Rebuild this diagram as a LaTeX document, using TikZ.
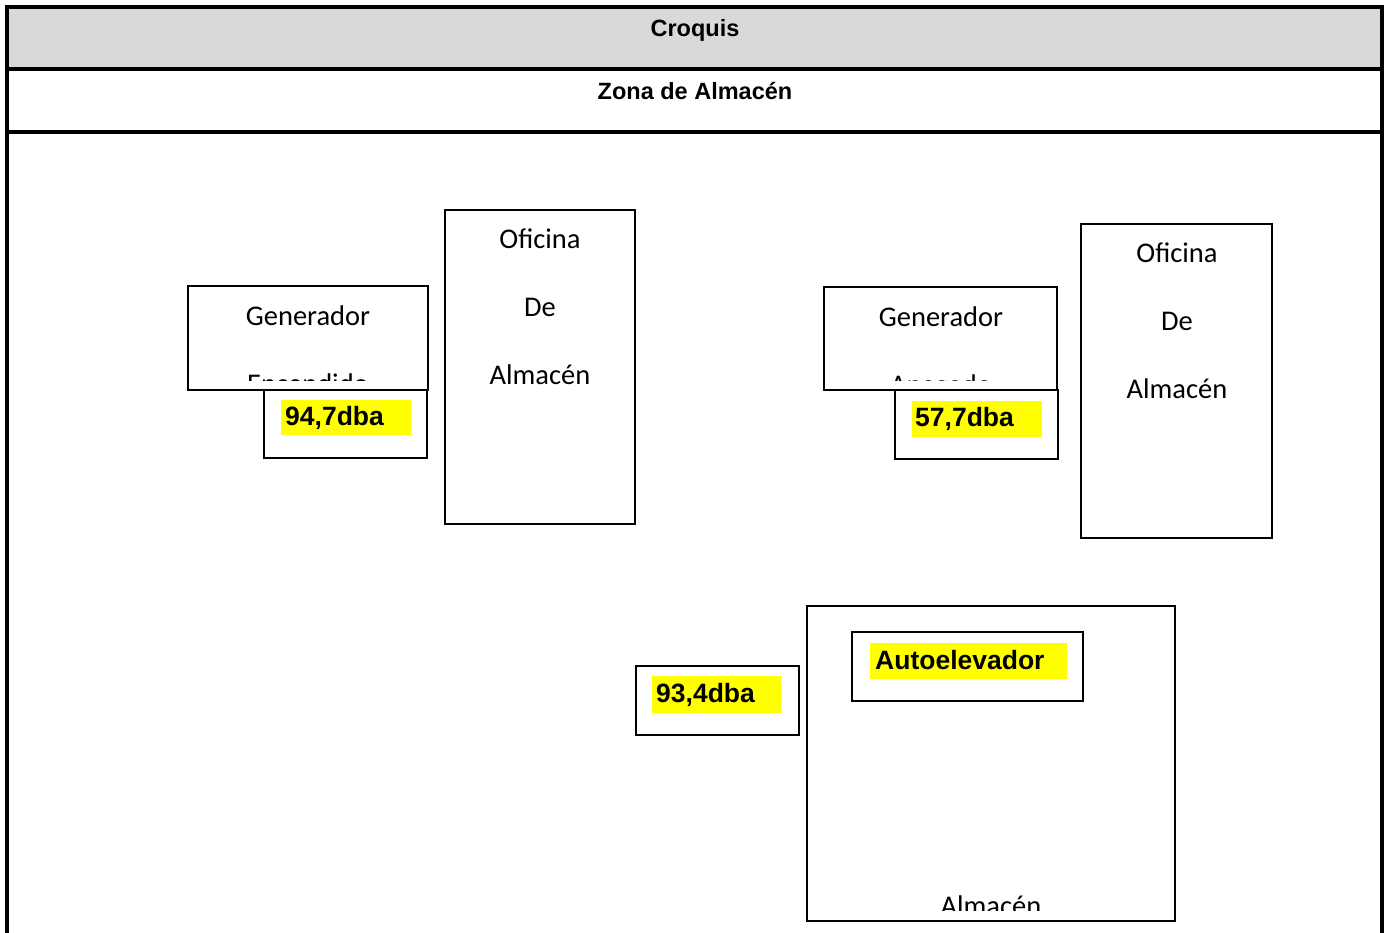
\documentclass[tikz,border=0pt]{standalone}
\usepackage{fontspec}
\setmainfont{Liberation Sans}
\newfontfamily\calfont{Carlito}
\definecolor{hdrgray}{HTML}{D9D9D9}
\definecolor{hiyellow}{HTML}{FFFF00}
\tikzset{
  boxw/.style={draw=black, line width=1.6pt, fill=white},
  frameline/.style={line width=3.8pt, line cap=rect},
  hdrtext/.style={font=\fontsize{23.5}{28}\selectfont\bfseries, anchor=base, inner sep=0pt},
  caltext/.style={font=\calfont\fontsize{28.5}{34}\selectfont, anchor=base, inner sep=0pt},
  valtext/.style={font=\fontsize{26.5}{31}\selectfont\bfseries, anchor=base west, inner sep=0pt},
  hilite/.style={fill=hiyellow, draw=none}
}
\begin{document}
\begin{tikzpicture}[x=1pt,y=-1pt]
\useasboundingbox (0,0) rectangle (1389,932);
\fill[white] (0,0) rectangle (1389,932);
% header
\fill[hdrgray] (7,7) rectangle (1382,69);
\draw[frameline] (7,932) -- (7,7) -- (1382,7) -- (1382,932);
\draw[frameline] (7,69) -- (1382,69);
\draw[frameline] (7,132) -- (1382,132);
\node[hdrtext] (croquis) at (695,36) {Croquis};
\node[hdrtext] (zona) at (695,99) {Zona de Almacén};

% left generator
\draw[boxw] (188,286) rectangle (428,390);
\begin{scope}
\clip (190,288) rectangle (426,380);
\node[caltext] (genLa) at (308,325) {Generador};
\node[caltext] (genLb) at (308,393) {Encendido};
\end{scope}
\draw[boxw] (264,390) rectangle (427,458);
\fill[hilite] (281,400) rectangle (411,435);
\node[valtext] (valA) at (285,425) {94,7dba};

% left office
\draw[boxw] (445,210) rectangle (635,524);
\node[caltext] (ofLa) at (540,248) {Oficina};
\node[caltext] (ofLb) at (540,316) {De};
\node[caltext] (ofLc) at (540,384) {Almacén};

% right generator
\draw[boxw] (824,287) rectangle (1057,390);
\begin{scope}
\clip (826,289) rectangle (1055,380);
\node[caltext] (genRa) at (941,326) {Generador};
\node[caltext] (genRb) at (941,394) {Apagado};
\end{scope}
\draw[boxw] (895,390) rectangle (1058,459);
\fill[hilite] (912,401) rectangle (1042,437);
\node[valtext] (valB) at (915,426) {57,7dba};

% right office
\draw[boxw] (1081,224) rectangle (1272,538);
\node[caltext] (ofRa) at (1177,262) {Oficina};
\node[caltext] (ofRb) at (1177,330) {De};
\node[caltext] (ofRc) at (1177,398) {Almacén};

% value 93,4
\draw[boxw] (636,666) rectangle (799,735);
\fill[hilite] (652,676) rectangle (781,713);
\node[valtext] (valC) at (656,702) {93,4dba};

% warehouse
\draw[boxw] (807,606) rectangle (1175,921);
\begin{scope}
\clip (809,608) rectangle (1173,910);
\node[caltext] (alm) at (991,915) {Almacén};
\end{scope}
\draw[boxw] (852,632) rectangle (1083,701);
\fill[hilite] (870,643) rectangle (1067,679);
\node[valtext] (auto) at (875,669) {Autoelevador};
\end{tikzpicture}
\end{document}
